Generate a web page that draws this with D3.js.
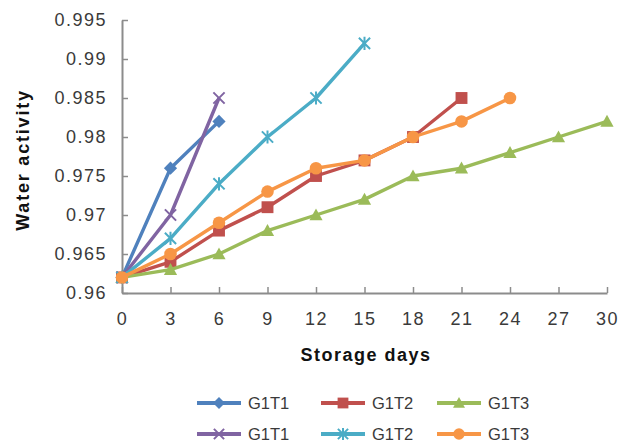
<!DOCTYPE html>
<html>
<head>
<meta charset="utf-8">
<script src="https://cdn.jsdelivr.net/npm/d3@7"></script>
<style>
  html, body { margin: 0; padding: 0; background: #fff; }
  svg { display: block; }
  text { font-family: "Liberation Sans", Arial, sans-serif; }
</style>
</head>
<body>
<svg id="chart" width="627" height="444"></svg>
<script>
// Storage days sampled every 3 days
const days = [0, 3, 6, 9, 12, 15, 18, 21, 24, 27, 30];

// Water activity per treatment (first set of samples)
const g1t1a = [0.962, 0.976, 0.982];
const g1t2a = [0.962, 0.964, 0.968, 0.971, 0.975, 0.977, 0.980, 0.985];
const g1t3a = [0.962, 0.963, 0.965, 0.968, 0.970, 0.972, 0.975, 0.976, 0.978, 0.980, 0.982];
// Water activity per treatment (second set of samples)
const g1t1b = [0.962, 0.970, 0.985];
const g1t2b = [0.962, 0.967, 0.974, 0.980, 0.985, 0.992];
const g1t3b = [0.962, 0.965, 0.969, 0.973, 0.976, 0.977, 0.980, 0.982, 0.985];

const yTicks = [0.96, 0.965, 0.97, 0.975, 0.98, 0.985, 0.99, 0.995];
const xTicks = [0, 3, 6, 9, 12, 15, 18, 21, 24, 27, 30];

const series = [
  { name: "G1T1", values: g1t1a, color: "#4f81bd", marker: "diamond" },
  { name: "G1T2", values: g1t2a, color: "#c0504d", marker: "square" },
  { name: "G1T3", values: g1t3a, color: "#9bbb59", marker: "triangle" },
  { name: "G1T1", values: g1t1b, color: "#8064a2", marker: "x" },
  { name: "G1T2", values: g1t2b, color: "#4bacc6", marker: "star" },
  { name: "G1T3", values: g1t3b, color: "#f79646", marker: "circle" }
];

const svg = d3.select("#chart");
const x = d3.scaleLinear().domain([0, 30]).range([122, 607]);
const y = d3.scaleLinear().domain([0.96, 0.995]).range([293, 20]);

const axisColor = "#8c8c8c";
const tickText = "#3a3a3a";

// Y axis: ticks pointing into the plot, labels on the left
const yAxis = svg.append("g")
  .attr("transform", `translate(${x(0)},0)`)
  .call(d3.axisLeft(y).tickValues(yTicks).tickSizeInner(-6).tickSizeOuter(0)
    .tickPadding(15).tickFormat(d => String(+d.toFixed(3))));
// X axis: ticks pointing up
const xAxis = svg.append("g")
  .attr("transform", `translate(0,${y(0.96)})`)
  .call(d3.axisBottom(x).tickValues(xTicks).tickSizeInner(-6).tickSizeOuter(0)
    .tickPadding(19));

[yAxis, xAxis].forEach(g => {
  g.select(".domain").attr("stroke", axisColor).attr("stroke-width", 2);
  g.selectAll(".tick line").attr("stroke", axisColor).attr("stroke-width", 1.5);
  g.selectAll(".tick text").attr("fill", tickText)
    .style("font-size", "18px").style("letter-spacing", "1.5px");
});

// Axis titles
svg.append("text")
  .attr("transform", "translate(29,160) rotate(-90)")
  .attr("text-anchor", "middle")
  .style("font-size", "18px").style("font-weight", "bold")
  .style("letter-spacing", "1.8px")
  .attr("fill", "#111")
  .text("Water activity");
svg.append("text")
  .attr("x", 366).attr("y", 361)
  .attr("text-anchor", "middle")
  .style("font-size", "18px").style("font-weight", "bold")
  .style("letter-spacing", "1.5px")
  .attr("fill", "#111")
  .text("Storage days");

// Marker drawing helper
function drawMarker(g, type, color, s) {
  switch (type) {
    case "diamond":
      g.append("path").attr("d", `M0,${-s}L${s},0L0,${s}L${-s},0Z`).attr("fill", color);
      break;
    case "square":
      g.append("rect").attr("x", -s * 0.9).attr("y", -s * 0.9)
        .attr("width", s * 1.8).attr("height", s * 1.8).attr("fill", color);
      break;
    case "triangle":
      g.append("path").attr("d", `M0,${-s}L${s},${s * 0.8}L${-s},${s * 0.8}Z`).attr("fill", color);
      break;
    case "circle":
      g.append("circle").attr("r", s * 0.95).attr("fill", color);
      break;
    case "x": {
      const a = s * 0.85;
      g.append("path").attr("d", `M${-a},${-a}L${a},${a}M${-a},${a}L${a},${-a}`)
        .attr("stroke", color).attr("stroke-width", 2);
      break;
    }
    case "star": {
      const a = s * 0.85;
      g.append("path")
        .attr("d", `M${-a},${-a}L${a},${a}M${-a},${a}L${a},${-a}M0,${-s}L0,${s}`)
        .attr("stroke", color).attr("stroke-width", 2);
      break;
    }
  }
}

const line = d3.line()
  .x((d, i) => x(days[i]))
  .y(d => y(d));

const plot = svg.append("g");
series.forEach(s => {
  const g = plot.append("g");
  g.append("path")
    .attr("d", line(s.values))
    .attr("fill", "none")
    .attr("stroke", s.color)
    .attr("stroke-width", 3.4)
    .attr("stroke-linejoin", "round");
  s.values.forEach((v, i) => {
    const m = g.append("g").attr("transform", `translate(${x(days[i])},${y(v)})`);
    drawMarker(m, s.marker, s.color, 6.6);
  });
});

// Legend: two rows of three entries
const legX = [197, 321, 437];
const legY = [403, 434];
series.forEach((s, i) => {
  const col = i % 3, row = Math.floor(i / 3);
  const g = svg.append("g").attr("transform", `translate(${legX[col]},${legY[row]})`);
  g.append("line").attr("x1", 0).attr("x2", 44).attr("y1", 0).attr("y2", 0)
    .attr("stroke", s.color).attr("stroke-width", 4);
  const m = g.append("g").attr("transform", "translate(22,0)");
  drawMarker(m, s.marker, s.color, 6);
  g.append("text").attr("x", 51).attr("y", 6)
    .style("font-size", "16.5px").attr("fill", tickText)
    .text(s.name);
});
</script>
</body>
</html>
